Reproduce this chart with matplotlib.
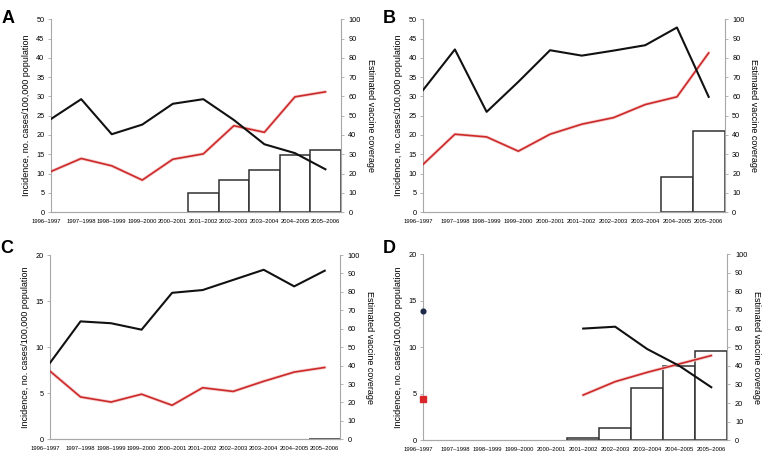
import matplotlib
matplotlib.use('Agg')
import matplotlib.pyplot as plt
import matplotlib.transforms as mtransforms

plt.rcParams['font.family'] = ['Liberation Sans', 'DejaVu Sans']

seasons = ['1996–1997', '1997–1998', '1998–1999', '1999–2000', '2000–2001',
           '2001–2002', '2002–2003', '2003–2004', '2004–2005', '2005–2006']

# panel A
a_black = [24.1, 29.3, 20.2, 22.7, 28.1, 29.3, 23.9, 17.6, 15.3, 11.1]
a_red = [10.5, 13.9, 12.0, 8.3, 13.7, 15.1, 22.4, 20.7, 29.9, 31.2]
a_cover = [None, None, None, None, None, 10, 16.6, 21.8, 29.4, 32.2]

# panel B
b_black = [31.7, 42.2, 26.0, 33.8, 42.0, 40.6, 41.9, 43.3, 47.9, 29.9]
b_red = [12.4, 20.2, 19.5, 15.8, 20.2, 22.8, 24.5, 27.9, 29.9, 41.3]
b_cover = [None, None, None, None, None, None, None, None, 18, 42.2]

# panel C
c_black = [8.3, 12.8, 12.6, 11.9, 15.9, 16.2, 17.3, 18.4, 16.6, 18.3]
c_red = [7.4, 4.6, 4.05, 4.9, 3.7, 5.6, 5.2, 6.3, 7.3, 7.8]
c_cover = [None, None, None, None, None, None, None, None, None, 0]

# panel D (only 2001-2002 onward, plus single points for 1996-1997)
d_black = [None, None, None, None, None, 12.0, 12.2, 9.8, 8.0, 5.7]
d_red = [None, None, None, None, None, 4.86, 6.3, 7.3, 8.2, 9.1]
d_cover = [None, None, None, None, None, 1.1, 6.6, 28.2, 40, 47.7]
d_black_first = 13.9
d_red_first = 4.46

# letter, axes rect, letter position, data, y max
panels = [
    ('A', [0.066, 0.541, 0.3776, 0.417], (0.002, 0.978), a_black, a_red, a_cover, 50),
    ('B', [0.551, 0.541, 0.3924, 0.417], (0.499, 0.978), b_black, b_red, b_cover, 50),
    ('C', [0.0651, 0.049, 0.3776, 0.399], (0.0, 0.481), c_black, c_red, c_cover, 20),
    ('D', [0.5508, 0.047, 0.3962, 0.403], (0.499, 0.481), d_black, d_red, d_cover, 20),
]

spine_gray = '#a8a8a8'
red = '#cc2a2a'

fig = plt.figure(figsize=(7.68, 4.62), dpi=100)

for letter, rect, lpos, black, red_vals, cover, ymax in panels:
    ax = fig.add_axes(rect)
    ax2 = ax.twinx()
    ax.set_zorder(ax2.get_zorder() + 1)
    ax.patch.set_visible(False)

    xs = list(range(len(seasons)))

    # bars for vaccine coverage on right axis
    bx = [x for x, v in zip(xs, cover) if v is not None]
    bv = [v for v in cover if v is not None]
    ax2.bar(bx, bv, width=1.0, facecolor='white', edgecolor='#303030', linewidth=1.1)

    # incidence lines
    lx = [x for x, v in zip(xs, red_vals) if v is not None]
    lv = [v for v in red_vals if v is not None]
    ax.plot(lx, lv, color='#f7d0d0', linewidth=2.4, solid_capstyle='round', zorder=2)
    ax.plot(lx, lv, color=red, linewidth=1.2, zorder=3)

    kx = [x for x, v in zip(xs, black) if v is not None]
    kv = [v for v in black if v is not None]
    ax.plot(kx, kv, color='#111111', linewidth=1.5, zorder=4)

    if letter == 'D':
        ax.plot([0], [d_black_first], marker='o', markersize=3.4, color='#1c2a48',
                linestyle='none', clip_on=False, zorder=5)
        ax.plot([0], [d_red_first], marker='s', markersize=4.6, color='#d8262a',
                linestyle='none', clip_on=False, zorder=5)

    ax.set_xlim(0, 9.5)
    ax.set_ylim(0, ymax)
    ax.set_yticks(range(0, ymax + 1, 5))
    ax2.set_ylim(0, 100)
    ax2.set_yticks(range(0, 101, 10))

    ax.set_xticks(xs)
    ax.set_xticklabels(seasons, fontsize=4.2)
    ax.tick_params(axis='x', length=0, pad=5)
    ax.tick_params(axis='y', labelsize=5.3, length=2.5, width=0.6, color=spine_gray, pad=2)
    ax2.tick_params(axis='y', labelsize=5.3, length=2.5, width=0.6, color=spine_gray, pad=3)
    ax2.tick_params(axis='x', length=0)

    first = ax.get_xticklabels()[0]
    first.set_transform(first.get_transform() +
                        mtransforms.ScaledTranslation(-4.5 / 100, 0, fig.dpi_scale_trans))

    for a in (ax, ax2):
        a.spines['top'].set_visible(False)
        for s in ('left', 'right', 'bottom'):
            a.spines[s].set_color(spine_gray)
            a.spines[s].set_linewidth(0.8)
    ax.spines['right'].set_visible(False)
    ax2.spines['left'].set_visible(False)

    ax.set_ylabel('Incidence, no. cases/100,000 population', fontsize=6.5, labelpad=4)
    ax2.set_ylabel('Estimated vaccine coverage', fontsize=6.5, rotation=270, labelpad=10)

    fig.text(lpos[0], lpos[1], letter, fontsize=13, fontweight='heavy', va='top', ha='left')

fig.savefig('out.png', dpi=100)
